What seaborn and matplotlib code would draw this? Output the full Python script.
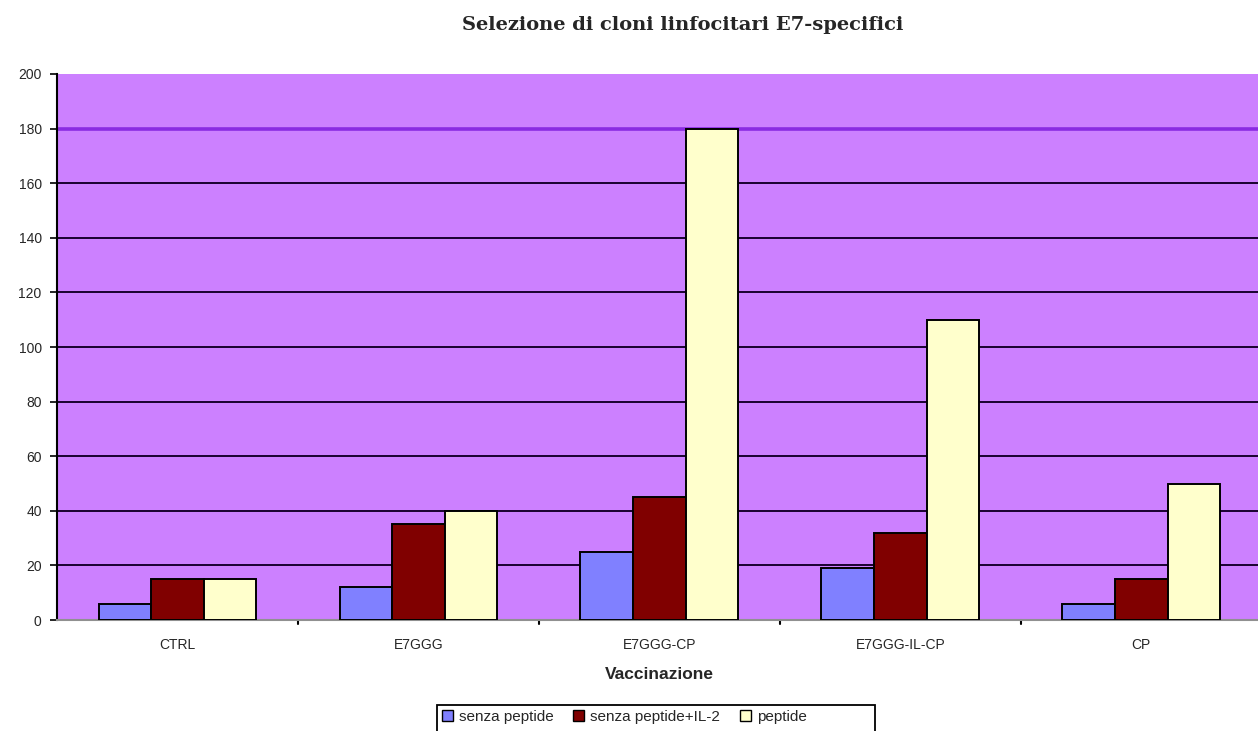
import matplotlib
matplotlib.use("Agg")
import matplotlib.pyplot as plt
import seaborn as sns
import pandas as pd
from matplotlib.patches import Patch, Rectangle

# Data
categories = ["CTRL", "E7GGG", "E7GGG-CP", "E7GGG-IL-CP", "CP"]
series_names = ["senza peptide", "senza peptide+IL-2", "peptide"]
senza_peptide = [6, 12, 25, 19, 6]
senza_peptide_il2 = [15, 35, 45, 32, 15]
peptide = [15, 40, 180, 110, 50]
y_ticks = [0, 20, 40, 60, 80, 100, 120, 140, 160, 180, 200]

colors = ["#8080FF", "#800000", "#FFFFCC"]

df = pd.DataFrame({
    "Vaccinazione": categories * 3,
    "Serie": [series_names[0]] * 5 + [series_names[1]] * 5 + [series_names[2]] * 5,
    "Valore": senza_peptide + senza_peptide_il2 + peptide,
})

sns.set_style("white")
plt.rcParams["font.family"] = ["Liberation Sans", "DejaVu Sans"]

W, H = 1258, 731
fig = plt.figure(figsize=(W / 100, H / 100), dpi=100)
ax = fig.add_axes([0.0453, 0.1518, 0.9577, 0.747])
ax.set_facecolor("#CC80FF")

sns.barplot(data=df, x="Vaccinazione", y="Valore", hue="Serie",
            order=categories, hue_order=series_names, palette=colors,
            saturation=1, width=0.655, edgecolor="black", linewidth=1.4,
            ax=ax, legend=False, zorder=3)

ax.set_xlim(-0.5, len(categories) - 0.5)
ax.set_ylim(0, 200)
ax.set_yticks(y_ticks)
ax.set_yticklabels([str(t) for t in y_ticks], fontsize=10)

# horizontal gridlines
for t in y_ticks[1:-1]:
    if t == 180:
        ax.axhline(t, color="#8A2BE2", lw=2.6, zorder=1)
    else:
        ax.axhline(t, color="#1A0030", lw=1.4, zorder=1)

# category ticks at group boundaries
ax.set_xticks(range(len(categories)))
ax.set_xticklabels(categories, fontsize=10)
ax.tick_params(axis="x", length=0, pad=13)
for b in [0.5, 1.5, 2.5, 3.5]:
    ax.plot([b, b], [0, -0.008], transform=ax.get_xaxis_transform(),
            color="black", lw=1.5, clip_on=False)
ax.tick_params(axis="y", direction="out", length=5, width=1.2, color="black", pad=6, left=True)

for s in ["top", "right"]:
    ax.spines[s].set_visible(False)
ax.spines["left"].set_color("black")
ax.spines["left"].set_linewidth(1.5)
ax.spines["bottom"].set_color("#909090")
ax.spines["bottom"].set_linewidth(1.5)

ax.set_ylabel("")
ax.set_xlabel("Vaccinazione", fontsize=12.5, fontweight="bold", labelpad=11)

fig.suptitle("Selezione di cloni linfocitari E7-specifici", x=0.543, y=0.978,
             fontsize=14, fontweight="bold", family=["DejaVu Serif"])

# legend box running off the bottom edge
fig.patches.append(Rectangle((437 / W, -0.02), (875 - 437) / W, (0.02 + (H - 705) / H),
                             transform=fig.transFigure, facecolor="white",
                             edgecolor="black", lw=1.3, zorder=1))
handles = [Patch(facecolor=c, edgecolor="black", lw=1) for c in colors]
leg = fig.legend(handles, series_names, loc="upper left", bbox_to_anchor=(442 / W, 1 - 710 / H),
                 ncol=3, fontsize=11, frameon=False,
                 handlelength=0.7, handleheight=0.7, handletextpad=0.4, columnspacing=1.3,
                 borderpad=0.0, borderaxespad=0.0)
leg.set_zorder(2)

fig.savefig("out.png", dpi=100)
